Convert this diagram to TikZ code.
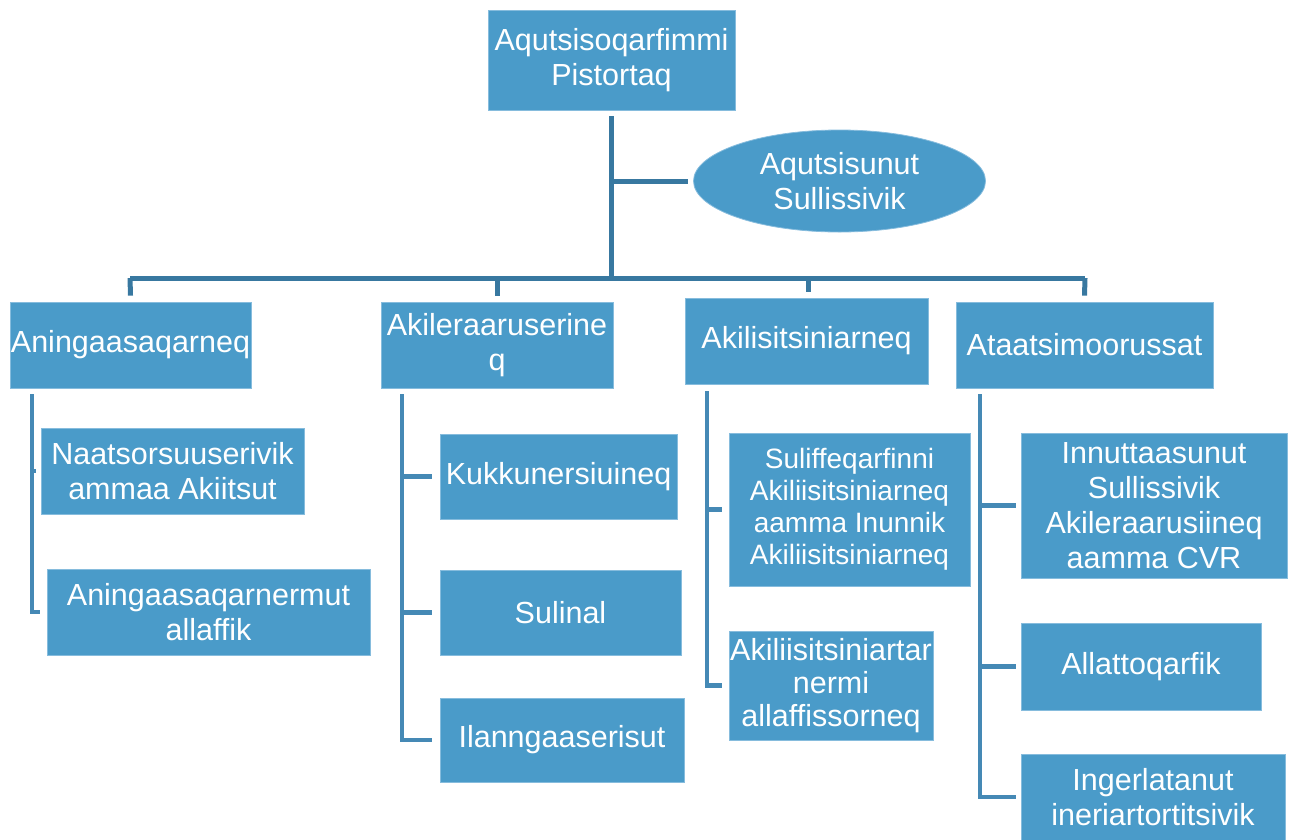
\documentclass[tikz,border=0pt]{standalone}
\usepackage{fontspec}
\setmainfont{Liberation Sans}
\usetikzlibrary{shapes.geometric}
\definecolor{boxfill}{HTML}{4A9BC9}
\definecolor{boxedge}{HTML}{86BCDD}
\definecolor{busline}{HTML}{3878A0}
\definecolor{kidline}{HTML}{4589B5}
\tikzset{
  box/.style={rectangle, fill=boxfill, draw=boxedge, line width=0.8pt, text=white,
    align=center, inner sep=0pt, font=\fontsize{30.5}{35}\selectfont},
  oval/.style={ellipse, fill=boxfill, draw=boxedge, line width=0.8pt, text=white,
    align=center, inner sep=0pt, font=\fontsize{30.5}{35}\selectfont},
  busl/.style={draw=busline, line width=5pt, line join=miter},
  kidl/.style={draw=kidline, line width=4.5pt, line join=miter},
}
\begin{document}
\begin{tikzpicture}[x=1pt,y=-1pt]
\path[use as bounding box] (0,0) rectangle (1289,839);

% top
\node[box, minimum width=247, minimum height=100] (root) at (611.5,60) {Aqutsisoqarfimmi\\Pistortaq};
\node[oval, minimum width=292, minimum height=102] (ell) at (839.5,181) {Aqutsisunut\\Sullissivik};

% level 2
\node[box, minimum width=241, minimum height=86] (a1) at (130.5,345) {Aningaasaqarneq};
\node[box, minimum width=232, minimum height=86] (a2) at (497,345) {Akileraaruserine\\q};
\node[box, minimum width=243, minimum height=86] (a3) at (806.5,341) {Akilisitsiniarneq};
\node[box, minimum width=257, minimum height=86] (a4) at (1084.5,345) {Ataatsimoorussat};

% children of a1
\node[box, minimum width=263, minimum height=86] (a1c1) at (172.5,471) {Naatsorsuuserivik\\ammaa Akiitsut};
\node[box, minimum width=323, minimum height=86] (a1c2) at (208.5,612) {Aningaasaqarnermut\\allaffik};

% children of a2
\node[box, minimum width=237, minimum height=85] (a2c1) at (558.5,476.5) {Kukkunersiuineq};
\node[box, minimum width=241, minimum height=85] (a2c2) at (560.5,612.5) {Sulinal};
\node[box, minimum width=244, minimum height=84] (a2c3) at (562,740) {Ilanngaaserisut};

% children of a3
\node[box, minimum width=241, minimum height=153, font=\fontsize{28}{32}\selectfont] (a3c1) at (849.5,509.5)
  {Suliffeqarfinni\\Akiliisitsiniarneq\\aamma Inunnik\\Akiliisitsiniarneq};
\node[box, minimum width=204, minimum height=109, font=\fontsize{30.5}{33}\selectfont] (a3c2) at (831,685.5)
  {Akiliisitsiniartar\\nermi\\allaffissorneq};

% children of a4
\node[box, minimum width=266, minimum height=145] (a4c1) at (1154,505.5)
  {Innuttaasunut\\Sullissivik\\Akileraarusiineq\\aamma CVR};
\node[box, minimum width=240, minimum height=87] (a4c2) at (1141,666.5) {Allattoqarfik};
\node[box, minimum width=264, minimum height=86] (a4c3) at (1153,797) {Ingerlatanut\\ineriartortitsivik};

% bus connectors
\coordinate (busL) at (130,278);
\coordinate (busR) at (1085,278);
\draw[busl] ([yshift=-6]root.south) -- (root.south |- busL);
\draw[busl] (root.south |- ell.west) -- ([xshift=-5]ell.west);
\draw[busl] (busL) -- (busR);
\draw[busl] (busL) -- ([yshift=6]a1.north);
\draw[busl] (a2.north |- busL) -- ([yshift=6]a2.north);
\draw[busl] (808,278) -- (808,292);
\draw[busl] (busR) -- ([yshift=6]a4.north);

% child connectors
\coordinate (v1) at (32,394);
\draw[kidl] (v1) -- (v1 |- a1c2.west) -- ([xshift=-7]a1c2.west);
\draw[kidl] (v1 |- a1c1.west) -- ([xshift=-5]a1c1.west);

\coordinate (v2) at (402,394);
\draw[kidl] (v2) -- (v2 |- a2c3.west) -- ([xshift=-8]a2c3.west);
\draw[kidl] (v2 |- a2c1.west) -- ([xshift=-8]a2c1.west);
\draw[kidl] (v2 |- a2c2.west) -- ([xshift=-8]a2c2.west);

\coordinate (v3) at (707,391);
\draw[kidl] (v3) -- (v3 |- a3c2.west) -- ([xshift=-7]a3c2.west);
\draw[kidl] (v3 |- a3c1.west) -- ([xshift=-7]a3c1.west);

\coordinate (v4) at (980,394);
\draw[kidl] (v4) -- (v4 |- a4c3.west) -- ([xshift=-5]a4c3.west);
\draw[kidl] (v4 |- a4c1.west) -- ([xshift=-5]a4c1.west);
\draw[kidl] (v4 |- a4c2.west) -- ([xshift=-5]a4c2.west);
\end{tikzpicture}
\end{document}
